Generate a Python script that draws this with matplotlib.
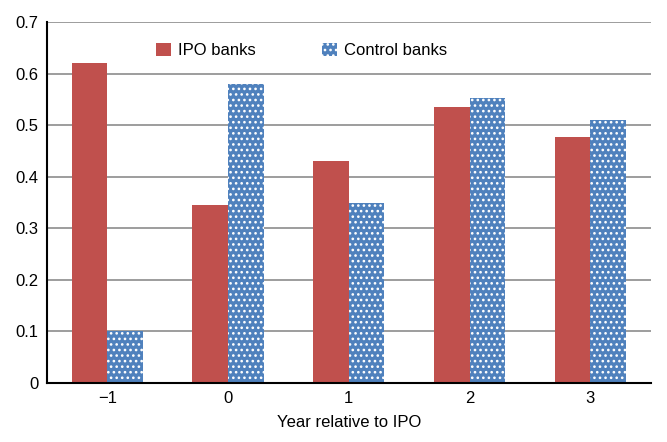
import numpy as np
import matplotlib.pyplot as plt

years = ['\u22121', '0', '1', '2', '3']
ipo_banks = [0.62, 0.345, 0.43, 0.535, 0.477]
control_banks = [0.10, 0.58, 0.35, 0.553, 0.51]

plt.rcParams['font.family'] = ['Liberation Sans', 'DejaVu Sans']
plt.rcParams['hatch.linewidth'] = 1.1

fig = plt.figure(figsize=(6.67, 4.42), dpi=100)
ax = fig.add_axes([0.0705, 0.1335, 0.905, 0.8165])

x = np.arange(len(years))
w = 0.295
ax.bar(x - w / 2, ipo_banks, w, color='#C0504D', label='IPO banks', zorder=3)
ax.bar(x + w / 2, control_banks, w, color='#4F81BD', edgecolor='white',
       hatch='...', linewidth=0, label='Control banks', zorder=3)

ax.set_xlim(-0.5, len(years) - 0.5)
ax.set_ylim(0, 0.7)
ax.set_yticks(np.arange(0, 0.71, 0.1))
ax.set_yticklabels(['0'] + ['%.1f' % v for v in np.arange(0.1, 0.71, 0.1)])
ax.set_xticks(x)
ax.set_xticklabels(years)
ax.tick_params(labelsize=12, length=0, pad=6)
ax.yaxis.grid(True, color='#8c8c8c', linewidth=1.2, zorder=0)
ax.spines['top'].set_visible(False)
ax.spines['right'].set_visible(False)
ax.spines['left'].set_linewidth(1.5)
ax.spines['bottom'].set_linewidth(1.5)
ax.spines['bottom'].set_zorder(4)
ax.set_xlabel('Year relative to IPO', fontsize=12, labelpad=6)

ax.legend(loc='upper center', bbox_to_anchor=(0.422, 0.985), ncol=2, frameon=False,
          fontsize=12, handlelength=0.9, handleheight=0.9, columnspacing=4.0,
          handletextpad=0.4)

fig.savefig('out.png', dpi=100)
